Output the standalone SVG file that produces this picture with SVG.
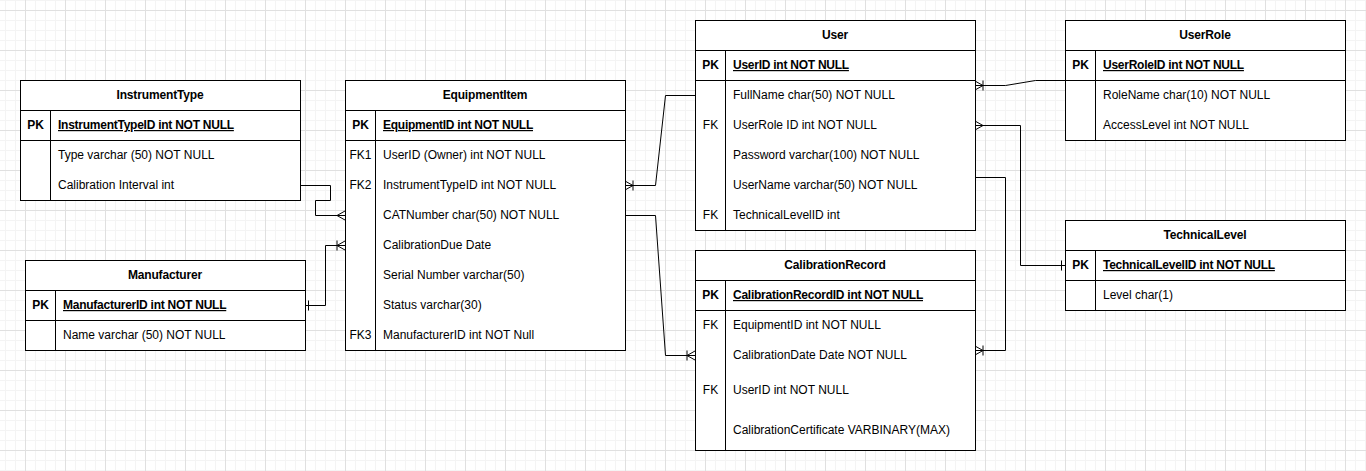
<svg xmlns="http://www.w3.org/2000/svg" width="1366" height="471" viewBox="0 0 1366 471">
<style>
.tbl{fill:#ffffff;stroke:#000000;stroke-width:1}
.ln{stroke:#000000;stroke-width:1;fill:none}
.t{font-family:"Liberation Sans",Arial,Helvetica,sans-serif;font-size:12px;fill:#000000}
.h{font-weight:bold;text-anchor:middle;letter-spacing:-0.15px}
.k{text-anchor:middle}
.pk{font-weight:bold}
.pf{font-weight:bold;text-decoration:underline;letter-spacing:-0.25px}
.c{stroke:#000000;stroke-width:1;fill:none}
</style>
<defs>
<pattern id="grid" patternUnits="userSpaceOnUse" x="25" y="10" width="40" height="40">
<rect x="0" y="0" width="40" height="40" fill="#ffffff"/>
<rect x="10" y="0" width="1" height="40" fill="#f4f4f4"/>
<rect x="20" y="0" width="1" height="40" fill="#f4f4f4"/>
<rect x="30" y="0" width="1" height="40" fill="#f4f4f4"/>
<rect x="0" y="10" width="40" height="1" fill="#f4f4f4"/>
<rect x="0" y="20" width="40" height="1" fill="#f4f4f4"/>
<rect x="0" y="30" width="40" height="1" fill="#f4f4f4"/>
<rect x="0" y="0" width="1" height="40" fill="#e0e0e0"/>
<rect x="0" y="0" width="40" height="1" fill="#e0e0e0"/>
</pattern>
<marker id="many" markerUnits="userSpaceOnUse" markerWidth="20" markerHeight="20" refX="0" refY="0" orient="auto-start-reverse" overflow="visible">
<path d="M-8,0 L0,-4.5 M-8,0 L0,4.5" stroke="#000" stroke-width="1" fill="none"/>
</marker>
<marker id="oneMany" markerUnits="userSpaceOnUse" markerWidth="20" markerHeight="20" refX="0" refY="0" orient="auto-start-reverse" overflow="visible">
<path d="M-8,0 L0,-4.5 M-8,0 L0,4.5 M-8,-5 L-8,5" stroke="#000" stroke-width="1" fill="none"/>
</marker>
<marker id="one" markerUnits="userSpaceOnUse" markerWidth="20" markerHeight="20" refX="0" refY="0" orient="auto-start-reverse" overflow="visible">
<path d="M-3.5,-5 L-3.5,5" stroke="#000" stroke-width="1" fill="none"/>
</marker>
</defs>
<rect x="0" y="0" width="1366" height="471" fill="url(#grid)"/>

<g id="connectors">
<path class="c" d="M300,185.5 H330.5 V200.5 H315.5 V215.5 H345" marker-end="url(#many)"/>
<path class="c" d="M305,305.5 H325.5 V245.5 H345" marker-start="url(#one)" marker-end="url(#oneMany)"/>
<path class="c" d="M695,95.5 H665.5 L655.5,185.5 H625" marker-end="url(#oneMany)"/>
<path class="c" d="M625,215.5 H655.5 L665.5,355.5 H695" marker-end="url(#oneMany)"/>
<path class="c" d="M1065,80.5 H1035.5 L1005.5,85.5 H975" marker-end="url(#oneMany)"/>
<path class="c" d="M975,125.5 H1020.5 V265.5 H1065" marker-start="url(#many)" marker-end="url(#one)"/>
<path class="c" d="M975,177.5 H1005.5 V350.5 H975" marker-end="url(#oneMany)"/>
</g>

<g id="InstrumentType">
<rect class="tbl" x="20.5" y="80.5" width="280" height="120"/>
<path class="ln" d="M20.5,110.5 H300.5 M20.5,140.5 H300.5 M50.5,110.5 V200.5"/>
<text class="t h" x="160" y="99">InstrumentType</text>
<text class="t k pk" x="35.5" y="129">PK</text>
<text class="t pf" x="58" y="129">InstrumentTypeID int NOT NULL</text>
<text class="t" x="58" y="159">Type varchar (50) NOT NULL</text>
<text class="t" x="58" y="189">Calibration Interval int</text>
</g>

<g id="Manufacturer">
<rect class="tbl" x="25.5" y="260.5" width="280" height="90"/>
<path class="ln" d="M25.5,290.5 H305.5 M25.5,320.5 H305.5 M55.5,290.5 V350.5"/>
<text class="t h" x="165" y="279">Manufacturer</text>
<text class="t k pk" x="40.5" y="309">PK</text>
<text class="t pf" x="63" y="309">ManufacturerID int NOT NULL</text>
<text class="t" x="63" y="339">Name varchar (50) NOT NULL</text>
</g>

<g id="EquipmentItem">
<rect class="tbl" x="345.5" y="80.5" width="280" height="270"/>
<path class="ln" d="M345.5,110.5 H625.5 M345.5,140.5 H625.5 M375.5,110.5 V350.5"/>
<text class="t h" x="485" y="99">EquipmentItem</text>
<text class="t k pk" x="360.5" y="129">PK</text>
<text class="t pf" x="383" y="129">EquipmentID int NOT NULL</text>
<text class="t k" x="360.5" y="159">FK1</text>
<text class="t" x="383" y="159">UserID (Owner) int NOT NULL</text>
<text class="t k" x="360.5" y="189">FK2</text>
<text class="t" x="383" y="189">InstrumentTypeID int NOT NULL</text>
<text class="t" x="383" y="219">CATNumber char(50) NOT NULL</text>
<text class="t" x="383" y="249">CalibrationDue Date</text>
<text class="t" x="383" y="279">Serial Number varchar(50)</text>
<text class="t" x="383" y="309">Status varchar(30)</text>
<text class="t k" x="360.5" y="339">FK3</text>
<text class="t" x="383" y="339">ManufacturerID int NOT Null</text>
</g>

<g id="User">
<rect class="tbl" x="695.5" y="20.5" width="280" height="210"/>
<path class="ln" d="M695.5,50.5 H975.5 M695.5,80.5 H975.5 M725.5,50.5 V230.5"/>
<text class="t h" x="835" y="39">User</text>
<text class="t k pk" x="710.5" y="69">PK</text>
<text class="t pf" x="733" y="69">UserID int NOT NULL</text>
<text class="t" x="733" y="99">FullName char(50) NOT NULL</text>
<text class="t k" x="710.5" y="129">FK</text>
<text class="t" x="733" y="129">UserRole ID int NOT NULL</text>
<text class="t" x="733" y="159">Password varchar(100) NOT NULL</text>
<text class="t" x="733" y="189">UserName varchar(50) NOT NULL</text>
<text class="t k" x="710.5" y="219">FK</text>
<text class="t" x="733" y="219">TechnicalLevelID int</text>
</g>

<g id="CalibrationRecord">
<rect class="tbl" x="695.5" y="250.5" width="280" height="200"/>
<path class="ln" d="M695.5,280.5 H975.5 M695.5,310.5 H975.5 M725.5,280.5 V450.5"/>
<text class="t h" x="835" y="269">CalibrationRecord</text>
<text class="t k pk" x="710.5" y="299">PK</text>
<text class="t pf" x="733" y="299">CalibrationRecordID int NOT NULL</text>
<text class="t k" x="710.5" y="329">FK</text>
<text class="t" x="733" y="329">EquipmentID int NOT NULL</text>
<text class="t" x="733" y="359">CalibrationDate Date NOT NULL</text>
<text class="t k" x="710.5" y="394">FK</text>
<text class="t" x="733" y="394">UserID int NOT NULL</text>
<text class="t" x="733" y="434">CalibrationCertificate VARBINARY(MAX)</text>
</g>

<g id="UserRole">
<rect class="tbl" x="1065.5" y="20.5" width="280" height="120"/>
<path class="ln" d="M1065.5,50.5 H1345.5 M1065.5,80.5 H1345.5 M1095.5,50.5 V140.5"/>
<text class="t h" x="1205" y="39">UserRole</text>
<text class="t k pk" x="1080.5" y="69">PK</text>
<text class="t pf" x="1103" y="69">UserRoleID int NOT NULL</text>
<text class="t" x="1103" y="99">RoleName char(10) NOT NULL</text>
<text class="t" x="1103" y="129">AccessLevel int NOT NULL</text>
</g>

<g id="TechnicalLevel">
<rect class="tbl" x="1065.5" y="220.5" width="280" height="90"/>
<path class="ln" d="M1065.5,250.5 H1345.5 M1065.5,280.5 H1345.5 M1095.5,250.5 V310.5"/>
<text class="t h" x="1205" y="239">TechnicalLevel</text>
<text class="t k pk" x="1080.5" y="269">PK</text>
<text class="t pf" x="1103" y="269">TechnicalLevelID int NOT NULL</text>
<text class="t" x="1103" y="299">Level char(1)</text>
</g>
</svg>
